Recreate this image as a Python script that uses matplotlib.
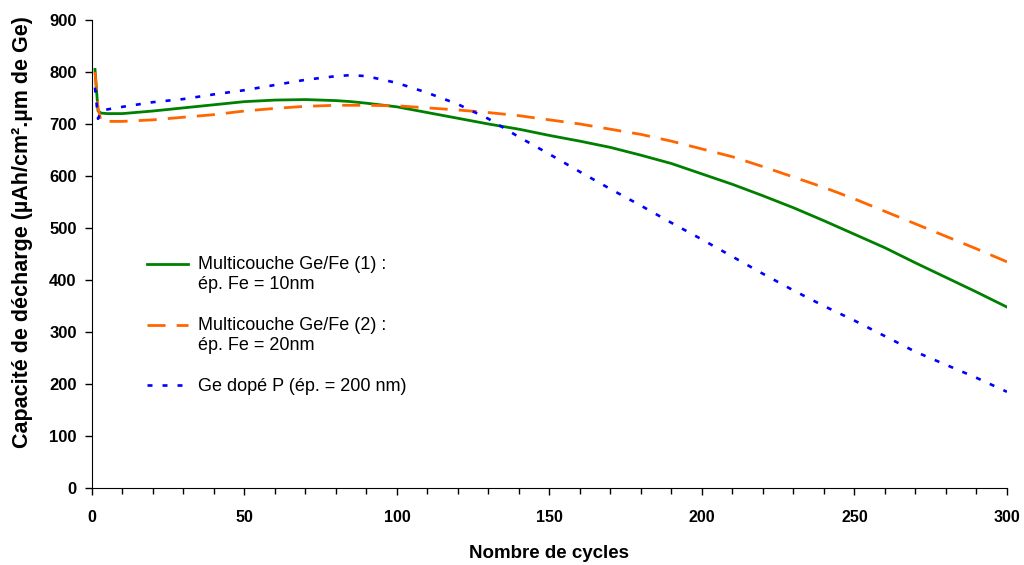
import matplotlib
matplotlib.use("Agg")
import matplotlib.pyplot as plt
from matplotlib.ticker import MultipleLocator

plt.rcParams['font.family'] = ['Liberation Sans', 'DejaVu Sans']
plt.rcParams['lines.scale_dashes'] = False

# values
cycles = [1, 2, 3, 5, 10, 20, 30, 40, 50, 60, 70, 80, 85, 90, 100, 110, 120, 130, 140, 150,
          160, 170, 180, 190, 200, 210, 220, 230, 240, 250, 260, 270, 280, 290, 300]
ge_fe_1 = [805, 725, 721, 720, 720, 725, 731, 737, 743, 746, 747, 745, 743, 740, 733, 722, 711, 700, 690, 678,
           667, 655, 640, 624, 604, 584, 562, 539, 514, 488, 462, 433, 405, 377, 348]
ge_fe_2 = [800, 730, 705, 705, 705, 708, 713, 718, 725, 730, 734, 736, 736, 736, 735, 731, 727, 722, 716, 708,
           700, 690, 680, 667, 652, 637, 618, 598, 578, 556, 532, 508, 484, 460, 435]
ge_p = [770, 710, 725, 728, 733, 742, 748, 757, 765, 775, 785, 792, 794, 792, 779, 760, 738, 710, 675, 642,
        608, 575, 543, 510, 478, 445, 412, 380, 350, 322, 292, 262, 237, 212, 185]

labels = ["Multicouche Ge/Fe (1) :\n\u00e9p. Fe = 10nm",
          "Multicouche Ge/Fe (2) :\n\u00e9p. Fe = 20nm",
          "Ge dop\u00e9 P (\u00e9p. = 200 nm)"]

fig = plt.figure(figsize=(10.24, 5.65), dpi=100)
ax = fig.add_axes([0.0898, 0.1363, 0.8935, 0.8283])

ax.plot(cycles, ge_fe_1, color='#008000', lw=2, label=labels[0])
ax.plot(cycles, ge_fe_2, color='#FF6600', lw=2, dashes=(13, 8), label=labels[1])
ax.plot(cycles, ge_p, color='#0000FF', lw=1.9, dashes=(3.6, 7.2), label=labels[2])

ax.set_xlim(0, 300)
ax.set_ylim(0, 900)
ax.xaxis.set_major_locator(MultipleLocator(50))
ax.xaxis.set_minor_locator(MultipleLocator(10))
ax.yaxis.set_major_locator(MultipleLocator(100))
ax.tick_params(axis='both', which='major', direction='out', length=5, width=1)
ax.tick_params(axis='x', which='major', labelsize=11.5, pad=11)
ax.tick_params(axis='y', which='major', labelsize=12, pad=6)
ax.tick_params(axis='x', which='minor', direction='out', length=4, width=1)
for lab in ax.get_xticklabels() + ax.get_yticklabels():
    lab.set_fontweight('bold')

ax.spines['top'].set_visible(False)
ax.spines['right'].set_visible(False)

ax.set_xlabel("Nombre de cycles", fontsize=13.5, fontweight='bold', labelpad=14)
ax.set_ylabel("Capacit\u00e9 de d\u00e9charge (\u00b5Ah/cm\u00b2.\u00b5m de Ge)", fontsize=15.5,
              fontweight='bold')
ax.yaxis.set_label_coords(-0.064, 0.547)

leg = ax.legend(loc='upper left', bbox_to_anchor=(0.060, 0.495), frameon=False, fontsize=13,
                handlelength=2.3, handletextpad=0.55, labelspacing=1.35,
                borderpad=0, borderaxespad=0)
# align the sample line with the first text line of two-line entries
for line in leg.get_lines()[:2]:
    line.set_ydata([y + 7.5 for y in line.get_ydata()])

fig.savefig("out.png", dpi=100)
